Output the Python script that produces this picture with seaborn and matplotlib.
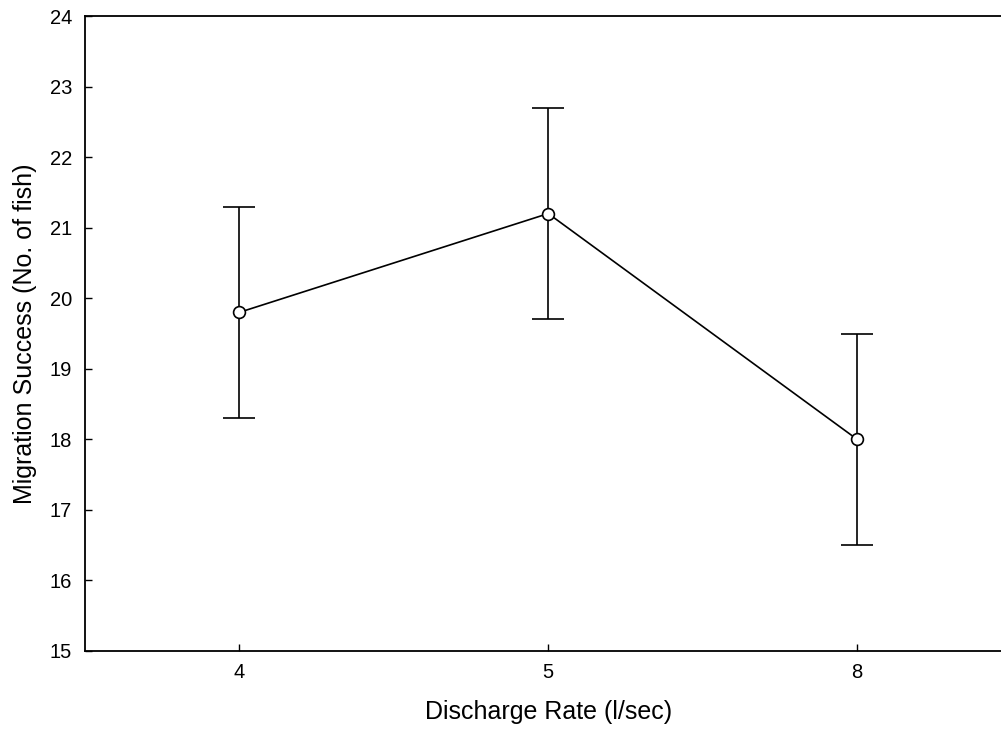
import matplotlib
matplotlib.use("Agg")
import matplotlib.pyplot as plt
import seaborn as sns
import pandas as pd

categories = ["4", "5", "8"]
means = [19.8, 21.2, 18.0]
errors = [1.5, 1.5, 1.5]
yticks = [15, 16, 17, 18, 19, 20, 21, 22, 23, 24]

sns.set_theme(style="ticks")
plt.rcParams['font.family'] = ['Liberation Sans', 'DejaVu Sans']
plt.rcParams['text.color'] = 'black'
plt.rcParams['axes.labelcolor'] = 'black'

df = pd.DataFrame({"rate": categories, "success": means})

fig = plt.figure(figsize=(10.01, 7.29), dpi=100)
ax = fig.add_axes([85/1001, 78/729, (1011.5-85)/1001, (651-16)/729])

ax.errorbar(range(len(categories)), means, yerr=errors, fmt="none",
            ecolor="black", elinewidth=1.2, capsize=11.5, capthick=1.2, zorder=2)
sns.pointplot(data=df, x="rate", y="success", ax=ax, color="black",
              errorbar=None, markers="o", markersize=8.5, linewidth=1.2,
              markerfacecolor="white", markeredgecolor="black",
              markeredgewidth=1.2, zorder=3)

ax.set_xlim(-0.5, 2.5)
ax.set_ylim(15, 24)
ax.set_yticks(yticks)
ax.set_yticklabels([str(t) for t in yticks])
ax.tick_params(direction="in", length=5, width=1, labelsize=14.5,
               colors="black", labelcolor="black")
ax.tick_params(axis="x", pad=8.7)
ax.tick_params(axis="y", pad=9.4)
for s in ["left", "bottom", "top", "right"]:
    ax.spines[s].set_visible(True)
    ax.spines[s].set_color("black")
    ax.spines[s].set_linewidth(1.3)
ax.set_xlabel("Discharge Rate (l/sec)", fontsize=18, va="center")
ax.set_ylabel("Migration Success (No. of fish)", fontsize=18, va="center")
ax.xaxis.set_label_coords(0.5, (651-712)/635)
ax.yaxis.set_label_coords((25-85)/926.5, 0.5)

fig.savefig("out.png", dpi=100)
